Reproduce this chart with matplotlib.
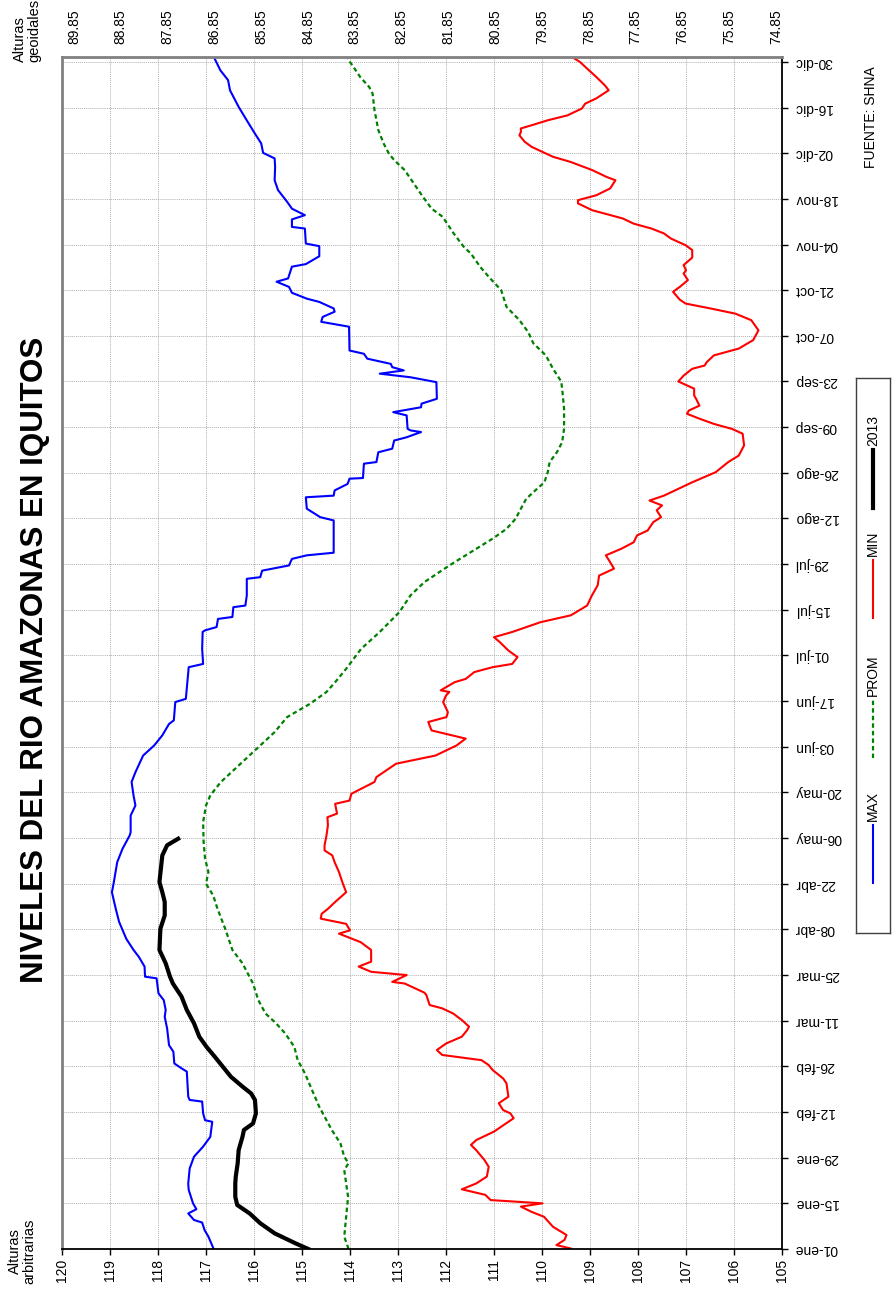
import numpy as np
import matplotlib.pyplot as plt

plt.rcParams['font.family'] = ['Liberation Sans', 'DejaVu Sans']

# (day of year, level in m)
max_pts = [(1, 116.84), (4.8, 116.95), (6.8, 117.03), (9.1, 117.08), (9.9, 117.25), (11.9, 117.37),
           (13.2, 117.20), (15, 117.27), (19.1, 117.36), (21.1, 117.37), (25.7, 117.34), (29.3, 117.25),
           (32.4, 117.06), (35.4, 116.91), (40, 116.87), (40.5, 117.02), (42.6, 117.06), (46.2, 117.08),
           (46.7, 117.34), (47.7, 117.37), (55.4, 117.40), (56.4, 117.51), (57.9, 117.66), (61.5, 117.68),
           (63.5, 117.77), (68.6, 117.81), (72.2, 117.86), (74.3, 117.84), (77.3, 117.88), (79.4, 117.99),
           (84, 118.03), (84.5, 118.27), (87.6, 118.28), (90.6, 118.40), (92.7, 118.51),
           (96.1, 118.66), (101.3, 118.81), (105.3, 118.88), (110.4, 118.96), (113.5, 118.92), (119.6, 118.85),
           (123.7, 118.74), (127.8, 118.59), (128.8, 118.57), (133.9, 118.57), (137, 118.47), (140.1, 118.51),
           (144.2, 118.55), (147.2, 118.47), (152.3, 118.31), (155.4, 118.08), (158.5, 117.91), (162, 117.77),
           (163.1, 117.67), (168.7, 117.64), (169.7, 117.42), (179.4, 117.36), (180.4, 117.06), (185, 117.08),
           (190.2, 117.07), (190.7, 117.02), (191.7, 116.78), (194.2, 116.75), (194.8, 116.45), (197.8, 116.43),
           (198.3, 116.18), (201.4, 116.15), (206.5, 116.15), (207, 115.87), (209, 115.83), (210.6, 115.27),
           (212.6, 115.21), (213.7, 114.90), (214.5, 114.34), (224.4, 114.34), (225.4, 114.62), (228, 114.90),
           (231.5, 114.92), (232, 114.34), (233.6, 114.32), (235.6, 114.05), (237.2, 114.01), (237.4, 113.73),
           (241.8, 113.71), (242.3, 113.45), (245.3, 113.41), (246.4, 113.12), (248.9, 113.08), (249.9, 112.82),
           (251.5, 112.52), (252, 112.74), (252.5, 112.80), (256.6, 112.82), (257.6, 113.10), (259.1, 112.52),
           (260.2, 112.51), (261.7, 112.19), (266.8, 112.20), (268.3, 112.74), (269.4, 113.38), (270.4, 112.88),
           (271.4, 113.12), (272.4, 113.15), (274, 113.64), (275.5, 113.71), (276.5, 114.01),
           (283.8, 114.02), (285.3, 114.60), (286.8, 114.57), (288.4, 114.32), (289.4, 114.34), (291.4, 114.64),
           (292.4, 114.90), (294.2, 115.21), (296, 115.27), (297.6, 115.53), (298.6, 115.29), (302.2, 115.21),
           (303, 114.92), (305.4, 114.64), (308.5, 114.64), (309.3, 114.92), (313.9, 114.94), (314.4, 115.21),
           (316.7, 115.21), (318, 114.94), (320, 115.21), (322.1, 115.31), (325.7, 115.50), (328.7, 115.57),
           (332.8, 115.56), (335.4, 115.57), (337.1, 115.81), (340, 115.85), (343, 115.98), (346.1, 116.11),
           (351.2, 116.32), (353.2, 116.39), (356.3, 116.50), (359.4, 116.54), (362.4, 116.70), (366, 116.82)]

prom_pts = [(1, 114.03), (4.8, 114.12), (10.9, 114.08), (17, 114.04), (21.1, 114.08), (25.2, 114.12),
            (27.3, 114.03), (29.3, 114.12), (33.4, 114.20), (37.5, 114.38), (41.6, 114.53), (44.6, 114.64),
            (49.7, 114.79), (54.9, 114.94), (58.9, 115.09), (63, 115.16), (67.1, 115.35), (70.2, 115.54),
            (73.2, 115.76), (77.3, 115.91), (82.4, 116.02), (85.5, 116.13), (88.6, 116.24), (92.7, 116.45),
            (99.2, 116.60), (105.3, 116.76), (109.4, 116.85), (113, 117.00), (116.6, 116.95), (120.7, 117.02),
            (125.8, 117.05), (131.9, 117.06), (137, 117.00), (140.1, 116.91), (144.2, 116.69), (147.2, 116.47),
            (151.3, 116.17), (155.4, 115.87), (159.5, 115.57), (164.1, 115.31), (168.2, 114.83), (171.8, 114.49),
            (174.8, 114.31), (178.9, 114.08), (185, 113.77), (190.2, 113.38), (196.3, 112.97), (201.4, 112.74),
            (205.5, 112.45), (210.6, 111.93), (214.7, 111.48), (218.8, 111.03), (221.8, 110.74), (224.9, 110.55),
            (228, 110.44), (231, 110.33), (233.6, 110.14), (236.1, 109.95), (239.2, 109.88), (242.3, 109.84),
            (245.3, 109.69), (248.4, 109.58), (252.5, 109.54), (258.6, 109.54), (264.8, 109.58), (267, 109.60),
            (270.9, 109.77), (275, 109.92), (278.7, 110.18), (282.2, 110.29), (285.8, 110.47), (289.9, 110.74),
            (295, 110.85), (299.1, 111.11), (302.2, 111.29), (306.2, 111.48), (308.3, 111.63), (312.4, 111.84),
            (317.5, 112.07), (320, 112.30), (323.6, 112.48), (327.7, 112.67), (331.8, 112.86), (334.9, 113.08),
            (336.9, 113.19), (340, 113.30), (344.1, 113.41), (350.2, 113.49), (355.3, 113.53), (357.3, 113.60),
            (360.4, 113.79), (363.5, 113.93), (366, 114.05)]

min_pts = [(1.2, 109.41), (2.2, 109.70), (3.8, 109.53), (5.3, 109.49), (7.8, 109.77), (10.9, 109.96),
           (12.4, 110.22), (14, 110.44), (15, 109.99), (16, 111.07), (17.6, 111.18), (19.3, 111.67),
           (21.1, 111.37), (23.2, 111.15), (26.2, 111.11), (28.3, 111.20), (31.3, 111.37), (32.9, 111.48),
           (34.4, 111.37), (37, 111.00), (41.1, 110.59), (42.6, 110.66), (43.6, 110.81), (45.7, 110.90),
           (47.7, 110.70), (51.8, 110.74), (53.3, 110.81), (55.9, 111.03), (57.4, 111.11), (58.9, 111.26),
           (60.5, 112.08), (62, 112.19), (64, 112.00), (66.1, 111.67), (68.1, 111.56), (69.2, 111.52),
           (71.2, 111.67), (73.2, 111.85), (74.8, 112.08), (75.8, 112.34), (78.9, 112.41), (79.6, 112.45),
           (82.4, 112.86), (82.9, 113.12), (85, 112.82), (86, 113.56), (87.6, 113.82), (89.1, 113.56),
           (92.7, 113.56), (95.1, 113.78), (97.7, 114.23), (98.7, 114.00), (100.7, 114.08), (102.3, 114.61),
           (103.8, 114.59), (105.3, 114.46), (107.4, 114.31), (110.4, 114.08), (113.5, 114.16), (116.6, 114.23),
           (119.6, 114.32), (121.7, 114.37), (123.2, 114.53), (124.8, 114.53), (127.8, 114.49), (130.9, 114.46),
           (133.4, 114.47), (134.5, 114.27), (137.5, 114.31), (138.5, 114.01), (140.6, 113.97), (144.2, 113.49),
           (145.7, 113.45), (149.8, 113.04), (152.3, 112.22), (155.4, 111.78), (157.5, 111.59), (160, 112.30),
           (162.6, 112.37), (164.1, 111.99), (165.6, 111.96), (168.7, 112.06), (170.7, 112.00), (171.8, 111.93),
           (172.3, 112.11), (174.8, 111.82), (175.8, 111.59), (177.9, 111.41), (179.4, 111.03), (180.4, 110.62),
           (182.5, 110.51), (184.5, 110.70), (187.1, 110.88), (188.6, 111.00), (190.2, 110.62), (193.2, 110.03),
           (195.3, 109.40), (198.3, 109.06), (201.4, 108.96), (204.5, 108.84), (207.5, 108.81), (209.6, 108.50),
           (211.6, 108.58), (213.7, 108.67), (215.7, 108.35), (217.7, 108.09), (219.8, 108.02), (221.3, 107.80),
           (223.9, 107.68), (225.4, 107.52), (227.5, 107.61), (229, 107.50), (230.5, 107.76), (232, 107.46),
           (236.1, 106.87), (239.2, 106.38), (242.3, 106.12), (244.3, 105.90), (247.4, 105.79), (251, 105.82),
           (252.5, 106.05), (254, 106.42), (255.6, 106.72), (257.1, 106.98), (258.1, 106.94), (259.6, 106.72),
           (261.7, 106.79), (262.7, 106.83), (264.8, 106.83), (267, 107.16), (268.8, 107.05), (270.9, 106.87),
           (271.9, 106.61), (272.9, 106.57), (275, 106.42), (277.1, 105.90), (279.7, 105.60), (282.7, 105.49),
           (285.8, 105.64), (287.8, 105.97), (289.4, 106.49), (290.9, 107.01), (292.1, 107.13), (294.5, 107.27),
           (296, 107.13), (298.1, 106.96), (300.1, 107.05), (301.1, 107.00), (302.7, 107.05), (305, 106.87),
           (307.3, 106.87), (308.8, 107.01), (310.8, 107.31), (312.4, 107.46), (313.9, 107.72), (315.4, 108.09),
           (317, 108.32), (319.5, 108.95), (321.6, 109.25), (322.6, 109.25), (324.1, 108.87), (326.2, 108.58),
           (328.7, 108.47), (329.7, 108.65), (331.8, 108.95), (334.3, 109.40), (335.9, 109.77), (337.4, 109.99),
           (338.9, 110.21), (340.5, 110.36), (342.5, 110.47), (343.5, 110.44), (344.6, 110.44), (345.6, 110.21),
           (347.1, 109.88), (348.6, 109.47), (350.7, 109.17), (352.2, 109.10), (353.8, 108.87), (356.3, 108.61),
           (357.8, 108.69), (360.4, 108.87), (362.4, 109.02), (365, 109.21), (366, 109.32)]

y2013_pts = [(1, 114.87), (2.7, 115.13), (5.8, 115.57), (8.9, 115.87), (11.9, 116.09), (14.5, 116.35),
             (17, 116.39), (21.1, 116.39), (23.2, 116.38), (27.3, 116.34), (31.3, 116.32), (35.4, 116.24),
             (37.5, 116.21), (39.5, 116.02), (42.6, 115.96), (46.7, 115.98), (48.7, 116.06), (50.8, 116.24),
             (53.8, 116.48), (56.9, 116.65), (60, 116.82), (63, 116.99), (66.1, 117.14), (70.2, 117.25),
             (74.3, 117.40), (78.4, 117.51), (82.4, 117.69), (84.5, 117.75), (88.6, 117.84), (92.7, 117.97),
             (99.2, 117.95), (103.3, 117.86), (107.4, 117.86), (110.4, 117.91), (113.5, 117.97), (117.6, 117.94),
             (121.7, 117.91), (124.8, 117.81), (126.8, 117.58)]

date_labels = ['01-ene', '15-ene', '29-ene', '12-feb', '26-feb', '11-mar', '25-mar', '08-abr', '22-abr',
               '06-may', '20-may', '03-jun', '17-jun', '01-jul', '15-jul', '29-jul', '12-ago', '26-ago',
               '09-sep', '23-sep', '07-oct', '21-oct', '04-nov', '18-nov', '02-dic', '16-dic', '30-dic']
level_ticks = list(range(105, 121))
geo_ticks = [89.85, 88.85, 87.85, 86.85, 85.85, 84.85, 83.85, 82.85, 81.85, 80.85,
             79.85, 78.85, 77.85, 76.85, 75.85, 74.85]

series = [('MAX', max_pts, dict(color='#0000ff', lw=1.5)),
          ('PROM', prom_pts, dict(color='#008000', lw=1.6, ls=(0, (2.0, 1.4)))),
          ('MIN', min_pts, dict(color='#ff0000', lw=1.5)),
          ('2013', y2013_pts, dict(color='black', lw=3.0))]

W, H = 894, 1290
fig = plt.figure(figsize=(W / 100, H / 100), dpi=100)


def fx(x):
    return x / W


def fy(y):
    return 1 - y / H


ax = fig.add_axes([fx(62), fy(1249), 720 / W, 1192 / H])

for name, pts, style in series:
    d, v = np.array(pts).T
    ax.plot(v, d, solid_joinstyle='round', **style)

ax.set_xlim(120, 105)
ax.set_ylim(1, 366.5)
ax.set_xticks(level_ticks)
ax.set_xticklabels([str(t) for t in level_ticks], rotation=90)
ax.set_yticks(1 + 14 * np.arange(len(date_labels)))
ax.yaxis.tick_right()
ax.set_yticklabels(date_labels, rotation=180, va='center')
ax.tick_params(axis='x', direction='out', length=4, width=1, pad=3, labelsize=10)
ax.tick_params(axis='y', direction='out', length=4, width=1, pad=5, labelsize=10,
               left=False, right=True, labelleft=False, labelright=True)
ax.grid(True, color='#b0b0b0', linestyle=(0, (1, 1)), linewidth=0.7)
ax.set_axisbelow(True)
for s in ['left', 'top']:
    ax.spines[s].set_color('#808080')
    ax.spines[s].set_linewidth(2)
for s in ['bottom', 'right']:
    ax.spines[s].set_color('black')
    ax.spines[s].set_linewidth(1.3)

ax2 = ax.twiny()
ax2.set_xlim(90.106, 74.722)
ax2.set_xticks(geo_ticks)
ax2.set_xticklabels(['%.2f' % t for t in geo_ticks], rotation=90)
ax2.tick_params(axis='x', length=0, pad=9, labelsize=10)
for s in ax2.spines.values():
    s.set_visible(False)

fig.text(fx(35), fy(660), 'NIVELES DEL RIO AMAZONAS EN IQUITOS', rotation=90,
         fontsize=22.5, fontweight='bold', ha='center', va='center')
fig.text(fx(27), fy(62), 'Alturas\ngeoidales', rotation=90, rotation_mode='anchor',
         ha='left', va='center', fontsize=10.5, linespacing=1.0)
fig.text(fx(22), fy(1251), 'Alturas\narbitrarias', rotation=90, rotation_mode='anchor',
         ha='center', va='center', fontsize=10.5, linespacing=1.0, multialignment='center')
fig.text(fx(871), fy(117), 'FUENTE: SHNA', rotation=90, ha='center', va='center', fontsize=10)

# legend drawn rotated, like the rest of the chart
lg = fig.add_axes([fx(856), fy(933), 34 / W, 555 / H])
lg.set_xlim(856, 890)
lg.set_ylim(933, 378)
lg.set_xticks([])
lg.set_yticks([])
for s in lg.spines.values():
    s.set_linewidth(1.0)
    s.set_color('#404040')
entry_y = [883, 758, 618, 508]
for (name, pts, style), y0 in zip(series, entry_y):
    lg.plot([873, 873], [y0, y0 - 58], **style)
    lg.text(873, y0 - 62, name, rotation=90, rotation_mode='anchor',
            ha='left', va='center', fontsize=10)

fig.savefig('out.png', dpi=100)
